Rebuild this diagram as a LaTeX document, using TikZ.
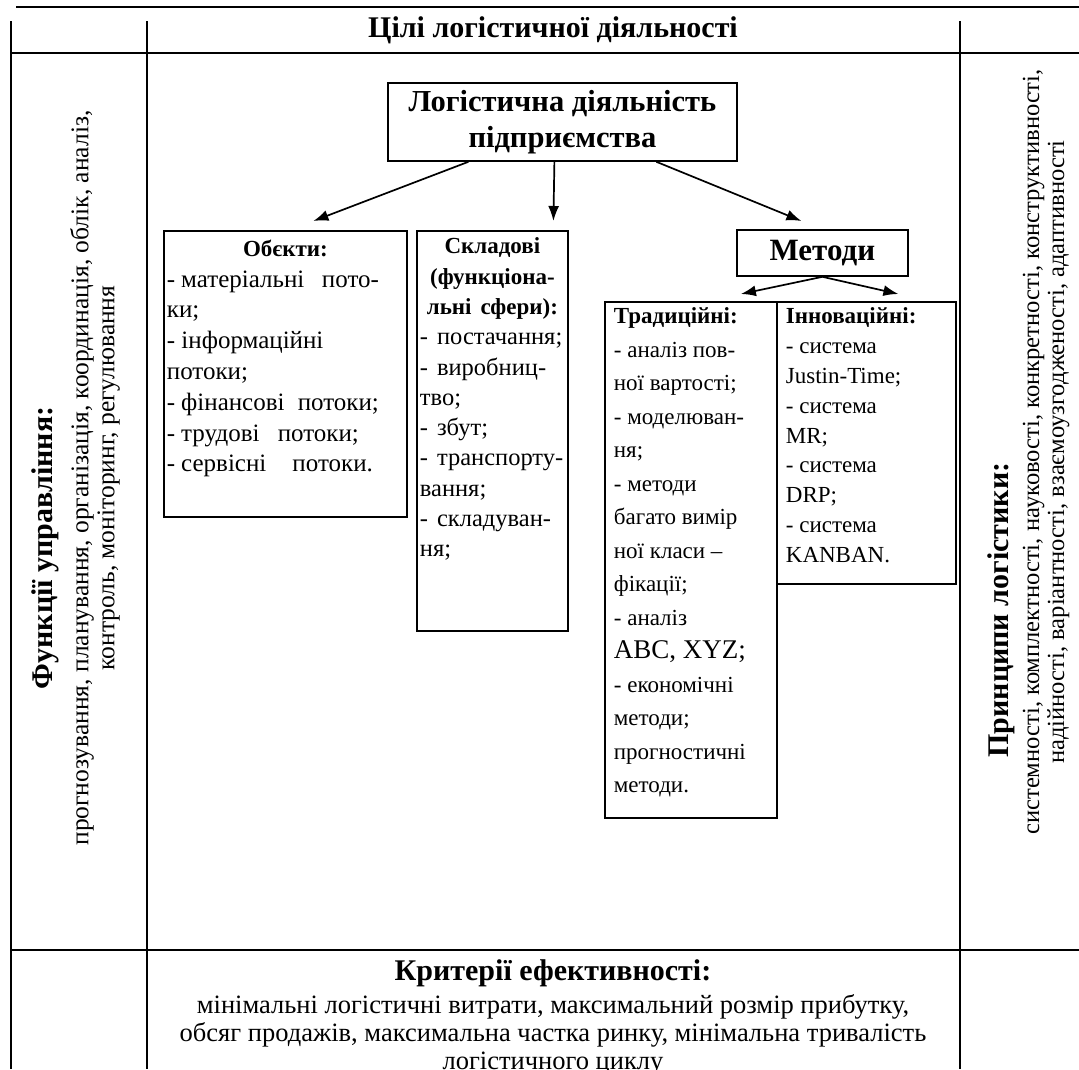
\documentclass[tikz,border=0pt]{standalone}
\usepackage{fontspec}
\setmainfont{Liberation Serif}
\usepackage{tikz}
\usetikzlibrary{calc}
\usetikzlibrary{arrows.meta}
\tikzset{>={Latex[length=15pt,width=11pt]}}
\newcommand{\bodyfont}{\fontsize{23}{30.5}\selectfont}
\newcommand{\headfont}{\fontsize{30}{34}\selectfont\bfseries}
\newcommand{\cellbox}[3]{\parbox[c][#1][t]{#2}{#3}}
\newcommand{\fitline}[2]{\makebox[#1][s]{-\kern6pt#2}}

\begin{document}
\begin{tikzpicture}[x=1pt,y=-1pt,
	rule/.style={line width=2pt},
	box/.style={draw,line width=1.8pt,anchor=north west,inner xsep=3pt,inner ysep=6pt,font=\bodyfont},
	arr/.style={->,line width=1.7pt}]
	\clip (0,0) rectangle (1079,1069);
	\fill[white] (0,0) rectangle (1079,1069);
	
	% TABLE
	\draw[rule] (16,7) -- (1079,7);
	\draw[rule] (11,53) -- (1079,53);
	\draw[rule] (11,950) -- (1079,950);
	\draw[rule] (11,21) -- (11,1069);
	\draw[rule] (147,21) -- (147,1069);
	\draw[rule] (960,21) -- (960,1069);
	
	\node (goals) at (553,30) {\headfont Цілі логістичної діяльності};
	
	% SIDE COLUMNS
	\node[rotate=90] (funcsT) at (45,548) {\headfont Функції управління:};
	\node[rotate=90,align=center,font=\fontsize{25.5}{26}\selectfont] (funcs) at (95,478)
	{прогнозування, планування, організація, координація, облік, аналіз,\\
		контроль, моніторинг, регулювання};
	\node[rotate=90] (princT) at (1001,610) {\headfont Принципи логістики:};
	\node[rotate=90,align=center,font=\fontsize{24.6}{25}\selectfont] (princ) at (1046,452)
	{системності, комплектності, науковості, конкретності, конструктивності,\\
		надійності, варіантності, взаємоузгодженості, адаптивності};
	
	\node[anchor=north,align=center,font=\fontsize{26.5}{28}\selectfont] (crit) at (553,956)
	{{\headfont Критерії ефективності:}\\[5pt]
		мінімальні логістичні витрати, максимальний розмір прибутку,\\
		обсяг продажів, максимальна частка ринку, мінімальна тривалість\\
		логістичного циклу};
	
	% BOXES
	\node[draw,line width=1.8pt,anchor=north west,minimum width=349pt,minimum height=78pt,
	inner sep=2pt,align=center,font=\fontsize{30.5}{36}\selectfont\bfseries] (main) at (387,82)
	{Логістична діяльність\\підприємства};
	\node[box,inner ysep=9pt,font=\fontsize{25}{30.8}\selectfont] (obj) at (163,230)
	{\cellbox{268pt}{237pt}{\centering{\fontsize{23}{30.8}\selectfont\bfseries Обєкти:}\par\raggedright
			\fitline{212pt}{матеріальні пото-}\\ки;\\- інформаційні\\потоки;\\
			\fitline{212pt}{фінансові потоки;}\\\fitline{192pt}{трудові потоки;}\\
			\fitline{206pt}{сервісні потоки.}}};
	\node[box,inner ysep=7pt,font=\fontsize{24.5}{30.3}\selectfont] (skl) at (416,230)
	{\cellbox{386pt}{145pt}{\spaceskip=9pt
			\centering{\fontsize{23}{30.3}\selectfont\bfseries Складові\\(функціона-\\льні сфери):}\par\raggedright
			- постачання;\\- виробниц-\\тво;\\- збут;\\- транспорту-\\вання;\\- складуван-\\ня;}};
	\node[draw,line width=1.8pt,anchor=north west,minimum width=171pt,minimum height=46pt,
	font=\fontsize{31}{34}\selectfont\bfseries] (met) at (736,229) {Методи};
	\node[box,inner xsep=9pt,font=\fontsize{23}{33.5}\selectfont] (trad) at (604,301)
	{\cellbox{504pt}{154pt}{\raggedright\textbf{Традиційні:}\\
			- аналіз пов-\\ної вартості;\\- моделюван-\\ня;\\- методи\\багато вимір\\ної класи –\\фікації;\\- аналіз\\{\fontsize{27}{33.5}\selectfont ABC, XYZ;}\\- економічні\\методи;\\прогностичні\\методи.}};
	\node[box,inner xsep=9pt,font=\fontsize{23}{29.8}\selectfont] (inn) at (776,301)
	{\cellbox{270pt}{161pt}{\raggedright\textbf{Інноваційні:}\\
			- система\\Justin-Time;\\- система\\MR;\\- система\\DRP;\\- система\\KANBAN.}};
	
	% ARROWS
	\draw[arr] ([xshift=-94pt]main.south) -- ([xshift=28pt,yshift=9pt]obj.north);
	\draw[arr] ([xshift=-8pt]main.south) -- ([xshift=61pt,yshift=9pt]skl.north);
	\draw[arr] ([xshift=94pt]main.south) -- ([xshift=-21pt,yshift=8pt]met.north);
	\draw[arr] (met.south) -- ([xshift=50pt,yshift=7pt]trad.north);
	\draw[arr] (met.south) -- ([xshift=32pt,yshift=7pt]inn.north);
\end{tikzpicture}
\end{document}
